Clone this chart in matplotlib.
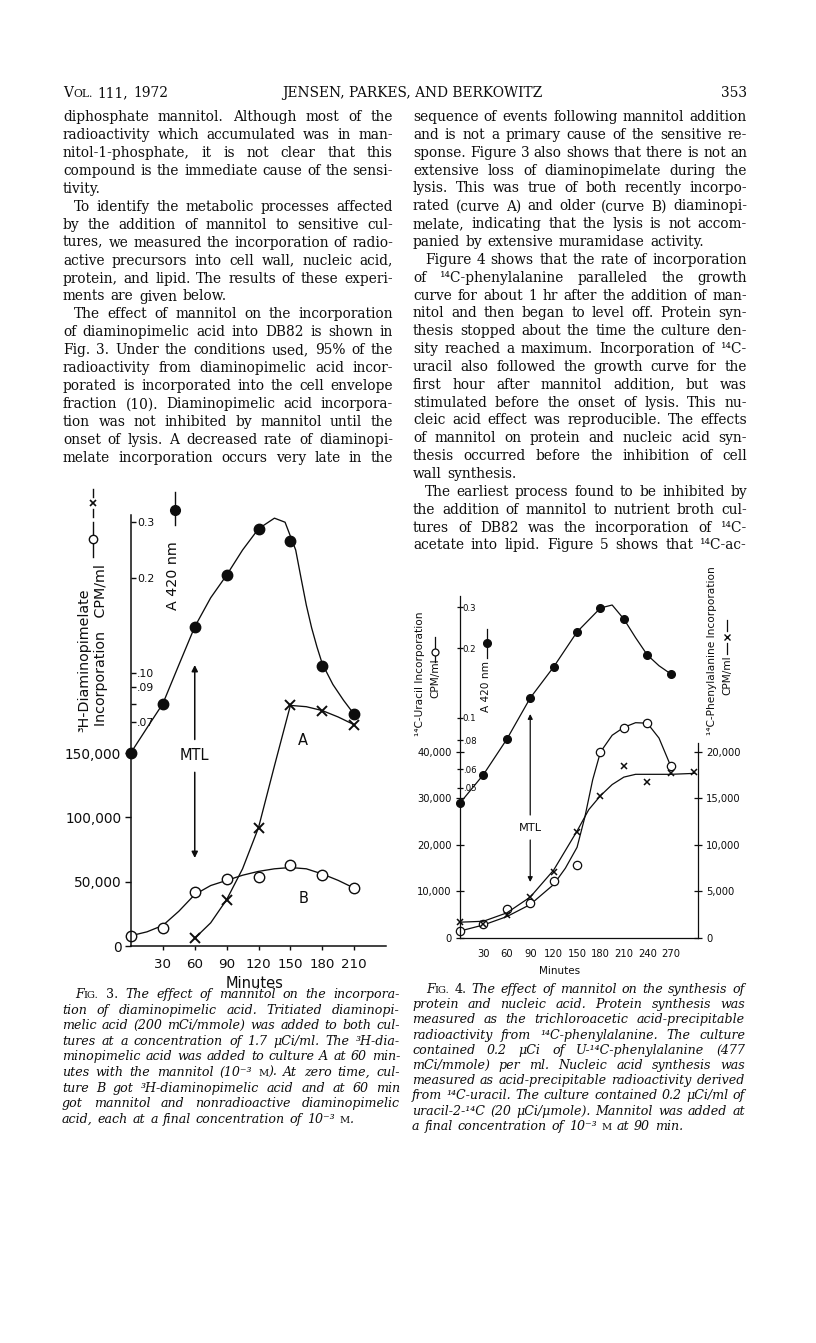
import re
import numpy as np
import matplotlib.pyplot as plt
from matplotlib.lines import Line2D

# ---------------- data ----------------
# Fig. 3  (minutes, A420 nm, CPM/ml)
min3 = [0, 30, 60, 90, 120, 150, 180, 210]
a420_fig3 = [0.056, 0.080, 0.140, 0.204, 0.286, 0.262, 0.105, 0.074]
fit3_t = [0, 15, 30, 45, 60, 75, 90, 105, 120, 135, 145, 155, 160, 165, 170, 175, 180, 190, 200, 210]
fit3_a420 = [0.056, 0.067, 0.080, 0.106, 0.140, 0.173, 0.204, 0.245, 0.286, 0.309, 0.300, 0.245,
             0.200, 0.164, 0.139, 0.121, 0.107, 0.092, 0.082, 0.074]
minA = [60, 90, 120, 150, 180, 210]
cpm_A = [6000, 36000, 92000, 187000, 183000, 172000]
fitA_t = [60, 75, 90, 105, 120, 135, 150, 165, 180, 195, 210]
fitA_cpm = [6000, 18000, 36000, 60000, 92000, 140000, 187000, 186000, 183000, 178000, 172000]
cpm_B = [8000, 14000, 42000, 52000, 54000, 63000, 55000, 45000]
fitB_t = [0, 15, 30, 45, 60, 75, 90, 105, 120, 135, 150, 165, 180, 195, 210]
fitB_cpm = [8000, 11000, 16000, 27000, 40000, 47000, 51000, 55000, 58000, 60000, 61000,
            60000, 56000, 51000, 45000]
xticks3 = [30, 60, 90, 120, 150, 180, 210]
cpm_ticks3 = [0, 50000, 100000, 150000]
cpm_labels3 = ["0", "50,000", "100,000", "150,000"]
a_ticks3 = [0.3, 0.2, 0.1, 0.09, 0.08, 0.07]
a_labels3 = ["0.3", "0.2", ".10", ".09", "", ".07"]

# Fig. 4
min4 = [0, 30, 60, 90, 120, 150, 180, 210, 240, 270]
a420_fig4 = [0.043, 0.057, 0.081, 0.122, 0.166, 0.235, 0.298, 0.267, 0.187, 0.155]
fit4_t = [0, 30, 60, 90, 120, 150, 180, 195, 210, 225, 240, 255, 270]
fit4_a420 = [0.043, 0.057, 0.081, 0.122, 0.166, 0.235, 0.298, 0.307, 0.267, 0.222, 0.187, 0.168, 0.155]
uracil_cpm = [1500, 3000, 6200, 7500, 12300, 15700, 40000, 45200, 46200, 37000]
fitU_t = [0, 30, 60, 90, 120, 135, 150, 160, 170, 180, 195, 210, 225, 240, 255, 270]
fitU_cpm = [1500, 2800, 4600, 7200, 11500, 15000, 19500, 26000, 34000, 40000, 43600, 45300,
            46300, 46200, 43000, 37000]
min_phe = [0, 30, 60, 90, 120, 150, 180, 210, 240, 270, 300]
phe_cpm = [1700, 1500, 2500, 4400, 7100, 11400, 15300, 18500, 16800, 17700, 17800]
fitP_t = [0, 30, 60, 90, 120, 150, 165, 180, 195, 210, 225, 270, 300]
fitP_cpm = [1700, 1800, 2700, 4400, 7300, 11500, 13800, 15300, 16500, 17300, 17600, 17600, 17700]
xticks4 = [30, 60, 90, 120, 150, 180, 210, 240, 270]
cpm_ticks4 = [0, 10000, 20000, 30000, 40000]
cpm_labels4 = ["0", "10,000", "20,000", "30,000", "40,000"]
phe_ticks4 = [0, 5000, 10000, 15000, 20000]
phe_labels4 = ["0", "5,000", "10,000", "15,000", "20,000"]
a_ticks4 = [0.3, 0.2, 0.1, 0.08, 0.06, 0.05]
a_labels4 = ["0.3", "0.2", "0.1", ".08", ".06", ".05"]

# ---------------- page text ----------------
header_left = "V{OL.} 111, 1972"
header_mid = "JENSEN, PARKES, AND BERKOWITZ"
header_right = "353"

left_col = [
    "diphosphate mannitol. Although most of the",
    "radioactivity which accumulated was in man-",
    "nitol-1-phosphate, it is not clear that this",
    "compound is the immediate cause of the sensi-",
    "tivity.",
    "  To identify the metabolic processes affected",
    "by the addition of mannitol to sensitive cul-",
    "tures, we measured the incorporation of radio-",
    "active precursors into cell wall, nucleic acid,",
    "protein, and lipid. The results of these experi-",
    "ments are given below.",
    "  The effect of mannitol on the incorporation",
    "of diaminopimelic acid into DB82 is shown in",
    "Fig. 3. Under the conditions used, 95% of the",
    "radioactivity from diaminopimelic acid incor-",
    "porated is incorporated into the cell envelope",
    "fraction (10). Diaminopimelic acid incorpora-",
    "tion was not inhibited by mannitol until the",
    "onset of lysis. A decreased rate of diaminopi-",
    "melate incorporation occurs very late in the",
]
right_col = [
    "sequence of events following mannitol addition",
    "and is not a primary cause of the sensitive re-",
    "sponse. Figure 3 also shows that there is not an",
    "extensive loss of diaminopimelate during the",
    "lysis. This was true of both recently incorpo-",
    "rated (curve A) and older (curve B) diaminopi-",
    "melate, indicating that the lysis is not accom-",
    "panied by extensive muramidase activity.",
    "  Figure 4 shows that the rate of incorporation",
    "of \u00b9\u2074C-phenylalanine paralleled the growth",
    "curve for about 1 hr after the addition of man-",
    "nitol and then began to level off. Protein syn-",
    "thesis stopped about the time the culture den-",
    "sity reached a maximum. Incorporation of \u00b9\u2074C-",
    "uracil also followed the growth curve for the",
    "first hour after mannitol addition, but was",
    "stimulated before the onset of lysis. This nu-",
    "cleic acid effect was reproducible. The effects",
    "of mannitol on protein and nucleic acid syn-",
    "thesis occurred before the inhibition of cell",
    "wall synthesis.",
    "  The earliest process found to be inhibited by",
    "the addition of mannitol to nutrient broth cul-",
    "tures of DB82 was the incorporation of \u00b9\u2074C-",
    "acetate into lipid. Figure 5 shows that \u00b9\u2074C-ac-",
]
caption3 = [
    "  F{IG.} [3.] The effect of mannitol on the incorpora-",
    "tion of diaminopimelic acid. Tritiated diaminopi-",
    "melic acid (200 mCi/mmole) was added to both cul-",
    "tures at a concentration of 1.7 \u03bcCi/ml. The \u00b3H-dia-",
    "minopimelic acid was added to culture A at 60 min-",
    "utes with the mannitol (10\u207b\u00b3 {M}). At zero time, cul-",
    "ture B got \u00b3H-diaminopimelic acid and at 60 min",
    "got mannitol and nonradioactive diaminopimelic",
    "acid, each at a final concentration of 10\u207b\u00b3 {M}.",
]
caption4 = [
    "  F{IG.} [4.] The effect of mannitol on the synthesis of",
    "protein and nucleic acid. Protein synthesis was",
    "measured as the trichloroacetic acid-precipitable",
    "radioactivity from \u00b9\u2074C-phenylalanine. The culture",
    "contained 0.2 \u03bcCi of U-\u00b9\u2074C-phenylalanine (477",
    "mCi/mmole) per ml. Nucleic acid synthesis was",
    "measured as acid-precipitable radioactivity derived",
    "from \u00b9\u2074C-uracil. The culture contained 0.2 \u03bcCi/ml of",
    "uracil-2-\u00b9\u2074C (20 \u03bcCi/\u03bcmole). Mannitol was added at",
    "a final concentration of 10\u207b\u00b3 {M} at 90 min.",
]

# ---------------- page set-up ----------------
W, H = 816, 1343
plt.rcParams['font.family'] = ['DejaVu Sans']
fig = plt.figure(figsize=(W / 100, H / 100), dpi=100)
renderer = fig.canvas.get_renderer()
INK = '#0d0d0d'


def fx(x):
    return x / W


def fy(y):
    return 1 - y / H


body = dict(family='DejaVu Serif', size=9.9, style='normal', color=INK)
ital = dict(family='DejaVu Serif', size=9.1, style='italic', color=INK)


def measure(s, kw):
    t = fig.text(0, 0, s, **kw)
    w = t.get_window_extent(renderer).width
    t.remove()
    return w


def segments(word, base):
    out = []
    for part in re.split(r'(\{[^}]*\}|\[[^\]]*\])', word):
        if not part:
            continue
        if part[0] == '{':
            out.append((part[1:-1], dict(base, size=base['size'] * 0.78, style='normal')))
        elif part[0] == '[':
            out.append((part[1:-1], dict(base, style='normal')))
        else:
            out.append((part, base))
    return out


def draw_line(line, base, x0, x1, yb, justify):
    n = len(line.split())
    kw_line = dict(base)
    # shrink a line slightly if it would not fit with a minimal word gap
    for _ in range(6):
        words = [segments(w, kw_line) for w in line.split()]
        widths = [sum(measure(s, kw) for s, kw in w) for w in words]
        if sum(widths) + 3.0 * (n - 1) <= x1 - x0:
            break
        kw_line['size'] *= 0.97
    if justify and n > 1:
        gap = (x1 - x0 - sum(widths)) / (n - 1)
    else:
        gap = measure('n', kw_line) * 0.6
    x = x0
    for w, wd in zip(words, widths):
        xs = x
        for s, kw in w:
            fig.text(fx(xs), fy(yb), s, ha='left', va='baseline', **kw)
            xs += measure(s, kw)
        x += wd + gap


def draw_block(lines, base, x0, x1, y0, step, indent, last_justified):
    for i, line in enumerate(lines):
        ind = line.startswith('  ')
        nxt = lines[i + 1] if i + 1 < len(lines) else None
        if nxt is None:
            just = last_justified
        else:
            just = not nxt.startswith('  ')
        draw_line(line.strip(), base, x0 + (indent if ind else 0), x1, y0 + i * step, just)


# header
draw_line(header_left, body, 63, 300, 97, False)
fig.text(fx(412), fy(97), header_mid, ha='center', va='baseline', **body)
fig.text(fx(747), fy(97), header_right, ha='right', va='baseline', **body)

draw_block(left_col, body, 63, 393, 121, 17.95, 11, True)
draw_block(right_col, body, 413, 747, 121, 17.85, 12, True)
draw_block(caption3, ital, 62, 400, 998, 15.6, 13, False)
draw_block(caption4, ital, 412, 745, 993, 15.2, 14, False)

# ---------------- Fig. 3 ----------------
rect3 = [fx(131), fy(946), (386 - 131) / W, (946 - 515) / H]
ax3 = fig.add_axes(rect3)
ax3.set_xlim(0, 240)
ax3.set_ylim(0, 335000)
for s in ('top', 'right'):
    ax3.spines[s].set_visible(False)
for s in ('left', 'bottom'):
    ax3.spines[s].set_linewidth(1.1)
    ax3.spines[s].set_color(INK)
ax3.set_xticks(xticks3, [str(v) for v in xticks3])
ax3.set_yticks(cpm_ticks3, cpm_labels3)
ax3.tick_params(axis='x', labelsize=9.6, length=3, width=1.0, pad=5.5, colors=INK)
ax3.tick_params(axis='y', labelsize=9.8, length=4, width=1.0, pad=3, colors=INK)

ax3.plot(fitB_t, fitB_cpm, color=INK, lw=0.95)
ax3.plot(min3, cpm_B, ls='none', marker='o', ms=7.5, mfc='white', mec=INK, mew=1.0, clip_on=False)
ax3.plot(fitA_t, fitA_cpm, color=INK, lw=0.95)
ax3.plot(minA, cpm_A, ls='none', marker='x', ms=6.5, mec=INK, mew=1.4, clip_on=False)

arrow = dict(arrowstyle='-|>', color=INK, lw=1.1, mutation_scale=9, shrinkA=0, shrinkB=0)
ax3.annotate('', xy=(60, 218400), xytext=(60, 160500), arrowprops=arrow)
ax3.annotate('', xy=(60, 68400), xytext=(60, 135000), arrowprops=arrow)
ax3.text(60, 147700, 'MTL', ha='center', va='center', fontsize=10.5, color=INK)
ax3.text(162, 160100, 'A', ha='center', va='center', fontsize=10.5, color=INK)
ax3.text(162, 37300, 'B', ha='center', va='center', fontsize=10.5, color=INK)

ax3b = fig.add_axes(rect3, facecolor='none', label='a420_3')
ax3b.set_yscale('log')
ax3b.set_xlim(0, 240)
ax3b.set_ylim(0.01368, 0.3162)
for s in ax3b.spines.values():
    s.set_visible(False)
ax3b.xaxis.set_visible(False)
ax3b.set_yticks(a_ticks3, a_labels3, ha='left')
ax3b.yaxis.set_minor_locator(plt.NullLocator())
ax3b.tick_params(axis='y', direction='in', length=3.5, width=1.0, pad=-4.5, labelsize=7.8, colors=INK)
ax3b.plot(fit3_t, fit3_a420, color=INK, lw=0.95)
ax3b.plot(min3, a420_fig3, ls='none', marker='o', ms=7.5, color=INK, clip_on=False)

fig.text(fx(255), fy(983), 'Minutes', ha='center', va='center', fontsize=10.5, color=INK)
fig.text(fx(84), fy(660), '\u00b3H-Diaminopimelate', rotation=90, ha='center', va='center',
         fontsize=10.3, color=INK)
fig.text(fx(101), fy(645), 'Incorporation   CPM/ml', rotation=90, ha='center', va='center',
         fontsize=10.3, color=INK)
fig.text(fx(173), fy(576), 'A 420 nm', rotation=90, ha='center', va='center',
         fontsize=10.3, color=INK)

# vertical key glyphs next to the axis titles
fig.add_artist(Line2D([fx(93), fx(93)], [fy(557), fy(522)], color=INK, lw=1.0))
fig.add_artist(Line2D([fx(93)], [fy(539)], marker='o', ms=6, mfc='white', mec=INK, mew=1.0))
fig.add_artist(Line2D([fx(93), fx(93)], [fy(517), fy(509)], color=INK, lw=1.0))
fig.add_artist(Line2D([fx(93), fx(93)], [fy(497), fy(489)], color=INK, lw=1.0))
fig.add_artist(Line2D([fx(93)], [fy(503)], marker='x', ms=5, mec=INK, mew=1.2))
fig.add_artist(Line2D([fx(175), fx(175)], [fy(525), fy(492)], color=INK, lw=1.0))
fig.add_artist(Line2D([fx(175)], [fy(510)], marker='o', ms=7, color=INK))

# ---------------- Fig. 4 ----------------
rect4 = [fx(460), fy(938), (698 - 460) / W, (938 - 596) / H]
ax4 = fig.add_axes(rect4)
ax4.set_xlim(0, 305)
ax4.set_ylim(0, 73548)
for s in ('top', 'right'):
    ax4.spines[s].set_visible(False)
for s in ('left', 'bottom'):
    ax4.spines[s].set_linewidth(0.9)
    ax4.spines[s].set_color(INK)
ax4.set_xticks(xticks4, [str(v) for v in xticks4])
ax4.set_yticks(cpm_ticks4, cpm_labels4)
ax4.tick_params(axis='x', labelsize=7.2, length=0, pad=8, colors=INK)
ax4.tick_params(axis='y', labelsize=7.2, direction='inout', length=6, width=0.9, pad=3, colors=INK)

ax4.plot(fitU_t, fitU_cpm, color=INK, lw=0.9)
ax4.plot(min4, uracil_cpm, ls='none', marker='o', ms=6, mfc='white', mec=INK, mew=0.9, clip_on=False)
arrow4 = dict(arrowstyle='-|>', color=INK, lw=0.9, mutation_scale=7, shrinkA=0, shrinkB=0)
ax4.annotate('', xy=(90, 48170), xytext=(90, 26450), arrowprops=arrow4)
ax4.annotate('', xy=(90, 12040), xytext=(90, 21075), arrowprops=arrow4)
ax4.text(90, 23660, 'MTL', ha='center', va='center', fontsize=8.2, color=INK)

ax4r = ax4.twinx()
ax4r.set_ylim(0, 36774)
for s in ('top', 'left', 'bottom'):
    ax4r.spines[s].set_visible(False)
ax4r.spines['right'].set_bounds(0, 21000)
ax4r.spines['right'].set_linewidth(0.9)
ax4r.spines['right'].set_color(INK)
ax4r.set_yticks(phe_ticks4, phe_labels4)
ax4r.tick_params(axis='y', labelsize=7.2, direction='inout', length=6, width=0.9, pad=3, colors=INK)
ax4r.plot(fitP_t, fitP_cpm, color=INK, lw=0.9)
ax4r.plot(min_phe, phe_cpm, ls='none', marker='x', ms=4.5, mec=INK, mew=1.1, clip_on=False)

ax4b = fig.add_axes(rect4, facecolor='none', label='a420_4')
ax4b.set_yscale('log')
ax4b.set_xlim(0, 305)
ax4b.set_ylim(0.01126, 0.3357)
for s in ax4b.spines.values():
    s.set_visible(False)
ax4b.xaxis.set_visible(False)
ax4b.set_yticks(a_ticks4, a_labels4, ha='left')
ax4b.yaxis.set_minor_locator(plt.NullLocator())
ax4b.tick_params(axis='y', direction='inout', length=4, width=0.9, pad=-4, labelsize=6.2, colors=INK)
ax4b.plot(fit4_t, fit4_a420, color=INK, lw=0.9)
ax4b.plot(min4, a420_fig4, ls='none', marker='o', ms=5.5, color=INK, clip_on=False)

fig.text(fx(560), fy(971), 'Minutes', ha='center', va='center', fontsize=7.5, color=INK)
fig.text(fx(420), fy(674), '\u00b9\u2074C-Uracil Incorporation', rotation=90, ha='center',
         va='center', fontsize=7.6, color=INK)
fig.text(fx(435), fy(678), 'CPM/ml', rotation=90, ha='center', va='center', fontsize=7.6, color=INK)
fig.add_artist(Line2D([fx(435), fx(435)], [fy(662), fy(637)], color=INK, lw=0.9))
fig.add_artist(Line2D([fx(435)], [fy(652)], marker='o', ms=5, mfc='white', mec=INK, mew=0.9))
fig.text(fx(486), fy(687), 'A 420 nm', rotation=90, ha='center', va='center', fontsize=7.6, color=INK)
fig.add_artist(Line2D([fx(487), fx(487)], [fy(658), fy(629)], color=INK, lw=0.9))
fig.add_artist(Line2D([fx(487)], [fy(643)], marker='o', ms=5.5, color=INK))
fig.text(fx(712), fy(651), '\u00b9\u2074C-Phenylalanine Incorporation', rotation=90, ha='center',
         va='center', fontsize=7.6, color=INK)
fig.text(fx(727), fy(675), 'CPM/ml', rotation=90, ha='center', va='center', fontsize=7.6, color=INK)
fig.add_artist(Line2D([fx(727), fx(727)], [fy(654), fy(643)], color=INK, lw=0.9))
fig.add_artist(Line2D([fx(727), fx(727)], [fy(631), fy(620)], color=INK, lw=0.9))
fig.add_artist(Line2D([fx(727)], [fy(637)], marker='x', ms=4, mec=INK, mew=1.0))

fig.savefig('out.png', dpi=100, facecolor='white')
